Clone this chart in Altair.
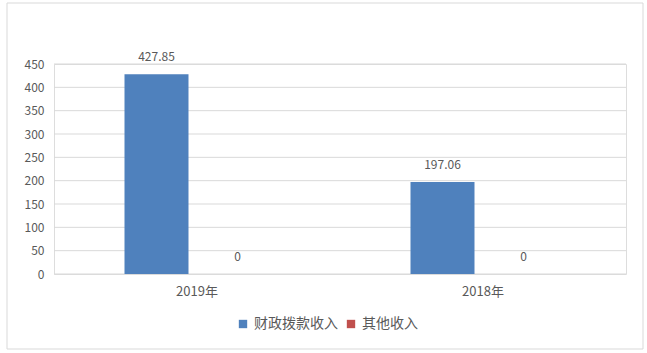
import altair as alt
import pandas as pd

years = ["2019年", "2018年"]
series = ["财政拨款收入", "其他收入"]
fiscal = [427.85, 197.06]
other = [0, 0]
colors = ["#4F81BD", "#C0504D"]
y_ticks = [0, 50, 100, 150, 200, 250, 300, 350, 400, 450]

rows = []
for i, yr in enumerate(years):
    rows.append({"year": yr, "series": series[0], "value": fiscal[i]})
    rows.append({"year": yr, "series": series[1], "value": other[i]})
df = pd.DataFrame(rows)
grid_df = pd.DataFrame({"value": y_ticks})

FONT = "Noto Sans CJK SC"
TXT = "#595959"
GRID = "#d9d9d9"

x_enc = alt.X("year:N", sort=years,
              scale=alt.Scale(paddingInner=0.493, paddingOuter=0.2465),
              axis=alt.Axis(title=None, labelAngle=0, ticks=False, domain=False,
                            grid=False,
                            labelPadding=11, labelFontSize=13, labelColor=TXT,
                            labelFont=FONT))
xo_enc = alt.XOffset("series:N", sort=series,
                     scale=alt.Scale(paddingInner=0.21, paddingOuter=0))
y_enc = alt.Y("value:Q", scale=alt.Scale(domain=[0, 450]),
              axis=alt.Axis(title=None, values=y_ticks, ticks=False, domain=False,
                            grid=False,
                            labelPadding=10, labelFontSize=12, labelColor=TXT,
                            labelFont=FONT))

base = alt.Chart(df)

grid = alt.Chart(grid_df).mark_rule(color=GRID, strokeWidth=1).encode(
    y=y_enc, x=alt.value(0), x2=alt.value(572)
)

bars = base.mark_bar().encode(
    x=x_enc, xOffset=xo_enc, y=y_enc,
    color=alt.Color("series:N", sort=series,
                    scale=alt.Scale(domain=series, range=colors),
                    legend=alt.Legend(orient="none", legendX=182, legendY=253,
                                      direction="horizontal", title=None,
                                      symbolType="square", symbolSize=70,
                                      symbolStrokeWidth=0, labelFontSize=14,
                                      labelColor=TXT, labelFont=FONT,
                                      columnPadding=6, labelOffset=4)),
)

labels = base.mark_text(fontSize=12, font=FONT, color=TXT, baseline="middle", dy=-17).encode(
    x=x_enc, xOffset=xo_enc, y=y_enc, text=alt.Text("value:Q"),
)

border = alt.Chart(alt.Data(values=[{"a": 1}])).mark_rect(
    fillOpacity=0, stroke=GRID, strokeWidth=1
).encode(
    x=alt.value(-47), x2=alt.value(589), y=alt.value(-61), y2=alt.value(285)
)

chart = alt.layer(border, grid, bars, labels).properties(
    width=572, height=210,
    padding={"left": 6, "top": 2, "right": 0, "bottom": 0},
    background="white",
).configure_view(stroke="transparent", strokeWidth=0, fill="white").configure(font=FONT)

chart.save("out.html", embed_options={"renderer": "svg", "actions": False})
